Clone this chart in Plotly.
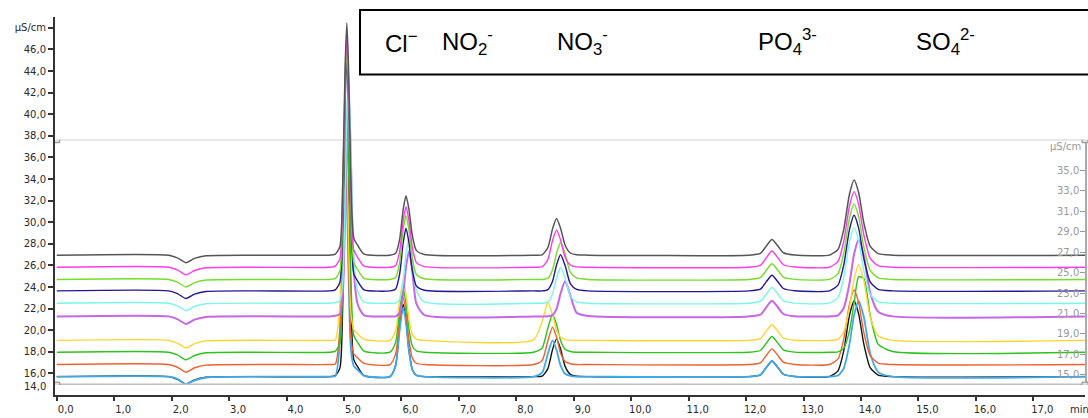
import plotly.graph_objects as go

# ---------------- data ----------------
time_min = [0.0, 1.95, 2.1, 2.25, 2.4, 2.6, 4.75,
            4.85, 4.93, 4.98, 5.02, 5.05, 5.08, 5.12, 5.17, 5.24, 5.35,
            5.8, 5.9, 5.97, 6.03, 6.08, 6.13, 6.19, 6.26, 6.4,
            8.3, 8.45, 8.55, 8.63, 8.7, 8.77, 8.85, 8.94, 9.05, 9.25,
            12.05, 12.25, 12.35, 12.45, 12.55, 12.65, 12.85,
            13.45, 13.6, 13.7, 13.8, 13.88, 13.96, 14.05, 14.16, 14.3, 14.55,
            17.9]

run_black = [15.7, 15.7, 15.45, 15.0, 15.4, 15.65, 15.7,
             15.8, 16.5, 22.6, 33.1, 37.2, 33.1, 22.9, 17.3, 16.6, 15.8,
             15.7, 16.77, 20.26, 22.4, 20.93, 18.25, 16.37, 15.83, 15.7,
             15.7, 15.74, 16.44, 18.19, 19.2, 18.29, 16.65, 15.91, 15.74, 15.7,
             15.7, 15.86, 16.53, 17.15, 16.57, 15.92, 15.71,
             15.7, 16.23, 18.08, 21.37, 22.7, 21.51, 18.71, 16.54, 15.84, 15.7,
             15.7]
run_light_blue = [15.7, 15.7, 15.5, 15.02, 15.35, 15.62, 15.7,
                  15.75, 19.1, 30.6, 37.2, 33.1, 25.2, 18.3, 16.7, 16.3, 15.8,
                  15.7, 16.72, 20.05, 22.1, 20.69, 18.13, 16.34, 15.83, 15.7,
                  15.7, 16.07, 17.85, 19.06, 18.19, 16.74, 15.97, 15.77, 15.7, 15.7,
                  15.7, 15.86, 16.53, 17.15, 16.57, 15.92, 15.71,
                  15.7, 15.8, 16.47, 18.71, 21.37, 22.7, 21.23, 17.87, 16.12, 15.7,
                  15.7]
run_orange = [16.82, 16.82, 16.57, 16.12, 16.52, 16.77, 16.82,
              16.87, 20.22, 31.72, 38.32, 34.22, 26.32, 19.42, 17.82, 17.42, 16.92,
              16.82, 17.81, 21.04, 23.02, 21.66, 19.18, 17.44, 16.94, 16.82,
              16.82, 17.2, 19.03, 20.28, 19.38, 17.89, 17.1, 16.89, 16.82, 16.82,
              16.82, 16.98, 17.65, 18.27, 17.69, 17.04, 16.83,
              16.82, 17.34, 19.17, 22.41, 23.72, 22.55, 19.79, 17.65, 16.96, 16.82,
              16.82]
run_green = [17.96, 17.96, 17.71, 17.26, 17.66, 17.91, 17.96,
             18.06, 18.76, 24.86, 35.36, 39.46, 35.36, 25.16, 19.56, 18.86, 18.06,
             17.96, 18.89, 21.9, 23.76, 22.48, 20.16, 18.54, 18.08, 17.96,
             17.96, 18.35, 20.2, 21.46, 20.55, 19.05, 18.24, 18.03, 17.96, 17.96,
             17.96, 18.12, 18.79, 19.41, 18.83, 18.18, 17.97,
             17.96, 18.0, 18.33, 19.94, 22.52, 24.94, 24.8, 21.41, 18.7, 18.03,
             17.96]
run_yellow = [19.06, 19.06, 18.81, 18.36, 18.76, 19.01, 19.06,
              19.11, 22.46, 33.96, 40.56, 36.46, 28.56, 21.66, 20.06, 19.66, 19.16,
              19.06, 19.94, 22.8, 24.56, 23.35, 21.15, 19.61, 19.17, 19.06,
              19.11, 20.81, 22.56, 21.44, 20.01, 19.34, 19.13, 19.06, 19.06, 19.06,
              19.06, 19.22, 19.89, 20.51, 19.93, 19.28, 19.07,
              19.06, 19.16, 19.83, 22.07, 24.73, 26.06, 24.59, 21.23, 19.48, 19.06,
              19.06]
run_violet = [21.28, 21.28, 21.03, 20.58, 20.98, 21.23, 21.28,
              21.33, 21.48, 23.38, 30.68, 38.58, 42.58, 35.98, 25.58, 22.38, 21.38,
              21.28, 21.28, 21.64, 23.32, 25.84, 27.28, 25.48, 22.48, 21.4,
              21.28, 21.28, 21.29, 21.39, 21.97, 23.37, 24.55, 23.24, 21.61, 21.31,
              21.28, 21.44, 22.11, 22.73, 22.15, 21.5, 21.29,
              21.28, 21.38, 22.06, 24.33, 27.03, 28.38, 26.89, 23.48, 21.71, 21.28,
              21.28]
run_cyan = [22.5, 22.5, 22.25, 21.8, 22.2, 22.45, 22.5,
            22.55, 22.7, 24.6, 31.9, 39.8, 43.8, 37.2, 26.8, 23.6, 22.6,
            22.5, 22.5, 22.86, 24.54, 27.06, 28.5, 26.7, 23.7, 22.62,
            22.5, 22.5, 22.62, 23.36, 24.84, 25.8, 24.81, 23.16, 22.63, 22.5,
            22.5, 22.66, 23.33, 23.95, 23.37, 22.72, 22.51,
            22.5, 23.03, 24.88, 28.17, 29.5, 28.31, 25.51, 23.34, 22.64, 22.5,
            22.5]
run_navy = [23.64, 23.64, 23.39, 22.94, 23.34, 23.59, 23.64,
            23.74, 24.44, 30.54, 41.04, 45.14, 41.04, 30.84, 25.24, 24.54, 23.74,
            23.64, 23.81, 25.21, 28.05, 29.44, 28.16, 25.55, 24.1, 23.7,
            23.64, 23.64, 23.76, 24.51, 26.02, 26.99, 25.99, 24.31, 23.77, 23.64,
            23.64, 23.8, 24.47, 25.09, 24.51, 23.86, 23.65,
            23.64, 24.17, 26.02, 29.31, 30.64, 29.45, 26.65, 24.48, 23.78, 23.64,
            23.64]
run_lime = [24.7, 24.7, 24.45, 24.0, 24.4, 24.65, 24.7,
            24.8, 25.5, 31.6, 42.1, 46.2, 42.1, 31.9, 26.3, 25.6, 24.8,
            24.7, 24.88, 26.31, 29.22, 30.65, 29.34, 26.66, 25.18, 24.76,
            24.7, 24.7, 24.82, 25.58, 27.11, 28.1, 27.08, 25.38, 24.84, 24.7,
            24.7, 24.86, 25.53, 26.15, 25.57, 24.92, 24.71,
            24.7, 25.23, 27.08, 30.37, 31.7, 30.51, 27.71, 25.54, 24.84, 24.7,
            24.7]
run_magenta = [25.83, 25.83, 25.58, 25.13, 25.53, 25.78, 25.83,
               25.93, 26.63, 32.73, 43.23, 47.33, 43.23, 33.03, 27.43, 26.73, 25.93,
               25.83, 26.0, 27.34, 30.09, 31.43, 30.2, 27.68, 26.28, 25.89,
               25.83, 25.86, 26.55, 28.28, 29.28, 28.38, 26.76, 26.04, 25.86, 25.83,
               25.83, 26.0, 26.69, 27.33, 26.73, 26.06, 25.85,
               25.83, 26.36, 28.21, 31.5, 32.83, 31.64, 28.84, 26.67, 25.97, 25.83,
               25.83]
run_dark_gray = [26.95, 26.95, 26.7, 26.25, 26.65, 26.9, 26.95,
                 27.05, 27.75, 33.85, 44.35, 48.45, 44.35, 34.15, 28.55, 27.85, 27.05,
                 26.95, 27.12, 28.44, 31.13, 32.45, 31.24, 28.77, 27.39, 27.01,
                 26.95, 26.98, 27.66, 29.36, 30.35, 29.47, 27.87, 27.15, 26.98, 26.95,
                 26.95, 27.11, 27.78, 28.4, 27.82, 27.17, 26.96,
                 26.95, 27.47, 29.32, 32.59, 33.91, 32.73, 29.94, 27.79, 27.09, 26.95,
                 26.95]

x_tick_values = list(range(0, 18))
x_tick_labels = [f"{v},0" for v in x_tick_values]
y_tick_values = list(range(16, 48, 2)) + [48]
y_tick_labels = [f"{v},0" for v in range(16, 48, 2)] + ["μS/cm"]
y2_tick_values = list(range(15, 37, 2))
y2_tick_labels = [f"{v},0" for v in y2_tick_values]

ion_labels = ["Cl<sup>−</sup>", "NO<sub>2</sub><sup>-</sup>", "NO<sub>3</sub><sup>-</sup>",
              "PO<sub>4</sub><sup>3-</sup>", "SO<sub>4</sub><sup>2-</sup>"]

# ---------------- styling ----------------
series = [
    (run_black, "#111111", 1.4),
    (run_light_blue, "#3fa9e8", 1.8),
    (run_orange, "#ee6130", 1.4),
    (run_green, "#2ec21c", 1.4),
    (run_yellow, "#ffd52e", 1.4),
    (run_violet, "#c866e8", 2.0),
    (run_cyan, "#7af7e6", 1.4),
    (run_navy, "#24168f", 1.4),
    (run_lime, "#78dc28", 1.4),
    (run_magenta, "#ff3ce8", 1.4),
    (run_dark_gray, "#555555", 1.5),
]

W, H = 1088, 418
L, R, T, B = 55, 3, 17, 19
PW, PH = W - L - R, H - T - B


def px(xp):
    return (xp - L) / PW


def py(yp):
    return (H - B - yp) / PH


fig = go.Figure()
fig.add_trace(go.Scatter(x=[0], y=[14], yaxis="y2", mode="markers",
                         marker=dict(opacity=0), hoverinfo="skip", showlegend=False))
for ys, col, lw in series:
    fig.add_trace(go.Scatter(x=time_min, y=ys, mode="lines",
                             line=dict(color=col, width=lw, shape="spline", smoothing=0.6),
                             hoverinfo="skip", showlegend=False))

axis_font = dict(family="DejaVu Sans, Verdana, sans-serif", size=10, color="#2a2a2a")
y2_font = dict(family="DejaVu Sans, Verdana, sans-serif", size=10, color="#9a9a9a")
y2_domain = [py(389), py(141)]

fig.update_layout(
    width=W, height=H,
    margin=dict(l=L, r=R, t=T, b=B),
    paper_bgcolor="white", plot_bgcolor="rgba(0,0,0,0)",
    showlegend=False,
    xaxis=dict(range=[-0.03, 17.9], domain=[0, 1], tickvals=x_tick_values, ticktext=x_tick_labels,
               ticks="outside", ticklen=4, tickcolor="#333", tickwidth=1.5,
               showline=True, linecolor="#333", linewidth=2,
               showgrid=False, zeroline=False, tickfont=axis_font, ticklabelshift=9),
    yaxis=dict(range=[14, 49], tickvals=y_tick_values, ticktext=y_tick_labels,
               ticks="outside", ticklen=5, tickcolor="#333", tickwidth=1.5,
               showline=True, linecolor="#333", linewidth=2,
               showgrid=False, zeroline=False, tickfont=axis_font),
    yaxis2=dict(range=[14, 38], domain=y2_domain, anchor="x", side="right",
                tickvals=y2_tick_values, ticktext=y2_tick_labels,
                ticks="inside", ticklen=5, tickcolor="#999", ticklabelposition="inside",
                showline=True, linecolor="#aaaaaa", linewidth=1.5,
                showgrid=False, zeroline=False, tickfont=y2_font),
)

shapes = [
    dict(type="line", xref="x", yref="y2", x0=0, x1=17.9, y0=38, y1=38,
         line=dict(color="#8a8a8a", width=1), layer="below"),
    dict(type="line", xref="x", yref="y2", x0=0, x1=17.9, y0=14, y1=14,
         line=dict(color="#bdbdbd", width=3), layer="below"),
    dict(type="rect", xref="paper", yref="paper", x0=px(360), x1=px(1100), y0=py(75), y1=py(10),
         line=dict(color="black", width=2)),
]
for xa, xr in [(0, "x"), (1.0, "paper")]:
    for ya in (14, 38):
        shapes.append(dict(type="rect", xref=xr, yref="y2", xsizemode="pixel", ysizemode="pixel",
                           xanchor=xa, yanchor=ya, x0=-3, x1=3, y0=-3, y1=3,
                           line=dict(color="#8a8a8a", width=1), fillcolor="#e0e0e0"))
fig.update_layout(shapes=shapes)

ion_x = [383, 440, 555, 756, 914]
ion_font = dict(family="Liberation Sans, Arial, sans-serif", size=24, color="black")
annotations = []
for txt, xp in zip(ion_labels, ion_x):
    annotations.append(dict(text=txt, xref="paper", yref="paper", x=px(xp), y=py(42),
                            xanchor="left", yanchor="middle", showarrow=False, font=ion_font))
annotations += [
    dict(text="14,0", xref="paper", yref="paper", x=px(48), y=py(390), xanchor="right",
         yanchor="middle", showarrow=False, font=axis_font),
    dict(text="min", xref="paper", yref="paper", x=px(1068), y=py(414), xanchor="left",
         yanchor="middle", showarrow=False, font=axis_font),
    dict(text="μS/cm", xref="paper", yref="y2", x=px(1083), y=37.3, xanchor="right",
         yanchor="middle", showarrow=False, font=y2_font),
]
fig.update_layout(annotations=annotations)

fig.write_html("out.html", config={"displayModeBar": False},
               post_script="document.body.style.margin='0';")
